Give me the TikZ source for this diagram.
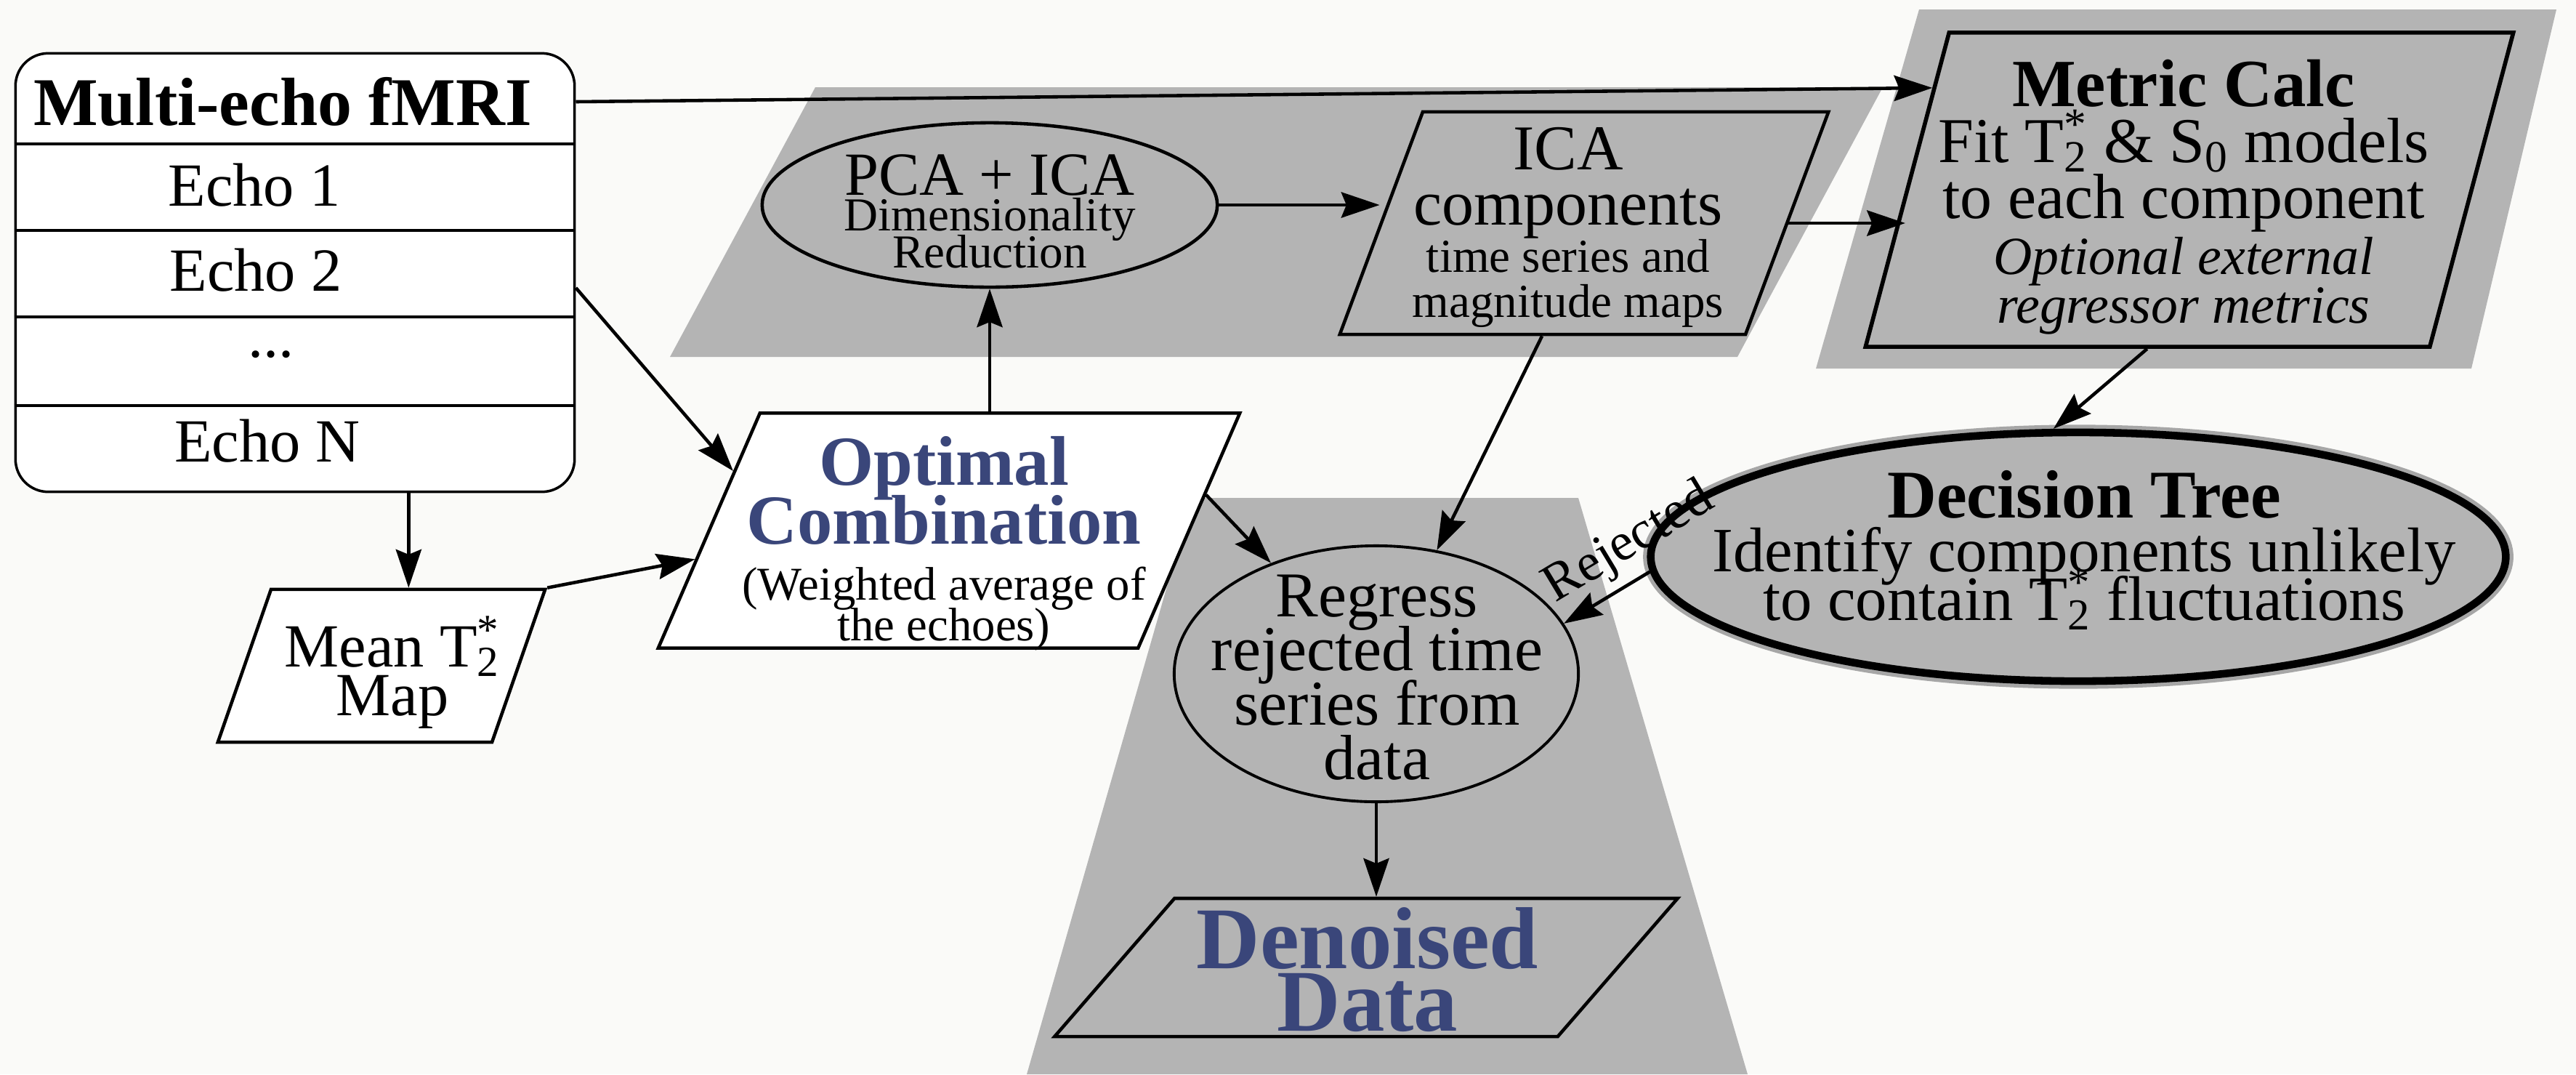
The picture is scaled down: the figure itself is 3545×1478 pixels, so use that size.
\documentclass[tikz,border=0pt]{standalone}
\usepackage{fontspec}
\setmainfont{Liberation Serif}
\usepackage{xcolor}
\usepackage{tikz}
\usetikzlibrary{shapes.geometric, arrows.meta, calc}
\definecolor{bandgray}{RGB}{180,180,180}
\definecolor{titleblue}{RGB}{58,70,122}
\definecolor{paper}{RGB}{250,250,248}
\newcommand{\tsize}[2]{\fontsize{#1}{#2}\selectfont\lineskiplimit=-50pt\relax}
\newcommand{\Tstar}{T\rlap{\textsuperscript{*}}\textsubscript{2}}
\tikzstyle{inputbox} = [rectangle, rounded corners=0.45cm, draw=black, line width=1pt, fill=white]
\tikzstyle{rowline} = [draw=black, line width=1pt]
\tikzstyle{datashape} = [rectangle, draw=black, line width=1.3pt, inner sep=0pt, transform shape]
\tikzstyle{procshape} = [ellipse, draw=black, line width=1.3pt, fill=bandgray, inner sep=0pt]
\tikzstyle{decshape} = [ellipse, draw=black, line width=3pt, fill=bandgray, inner sep=0pt, preaction={draw=black!35, line width=6pt}]
\tikzstyle{band} = [fill=bandgray]
\tikzstyle{txt} = [align=center, inner sep=0pt, font=\tsize{24.5}{21.5}]
\tikzstyle{arrow} = [line width=1.3pt, -{Stealth[length=15pt, width=10pt, inset=2pt]}]
\tikzstyle{backarrow} = [line width=1.3pt, {Stealth[length=15pt, width=10pt, inset=2pt]}-]
\begin{document}
\begin{tikzpicture}[x=0.01cm, y=-0.01cm]
    % page and grey groups
    \fill[paper] (0,0) rectangle (3545,1478);
    \fill[band] (1122,120) -- (2591,120) -- (2391,491) -- (922,491) -- cycle;
    \fill[band] (2641,13) -- (3518,13) -- (3401,507) -- (2499,507) -- cycle;
    \fill[band] (1641,685) -- (2172,685) -- (2405,1478) -- (1413,1478) -- cycle;

    % input data
    \node (fmri) [inputbox, minimum width=7.69cm, minimum height=6.03cm] at (406,375) {};
    \foreach \y in {198,317,436,558}
        \draw[rowline] (fmri.west |- 0,\y) -- (fmri.east |- 0,\y);
    \node (hdr) [txt, font=\tsize{26.7}{30}\bfseries] at (389,140) {Multi-echo fMRI};
    \node (echo1) [txt, font=\tsize{24}{24}] at (350,255) {Echo 1};
    \node (echo2) [txt, font=\tsize{24}{24}] at (352,372) {Echo 2};
    \node (dots) [txt, font=\tsize{24}{24}] at (373,488) {...};
    \node (echoN) [txt, font=\tsize{24}{24}] at (368,607) {Echo N};

    \node (mean) [datashape, fill=white, minimum width=3.77cm, minimum height=2.1cm, xslant=0.348] at (525,916) {};
    \node (meantext) [txt, font=\tsize{24}{19}] at (540,925) {Mean \Tstar\\Map};

    \node (opt) [datashape, fill=white, minimum width=6.6cm, minimum height=3.23cm, xslant=0.433] at (1306,730) {};
    \node (opttext) [txt, font=\tsize{27.5}{22.8}] at (1299,748) {\textcolor{titleblue}{\bfseries Optimal}\\\textcolor{titleblue}{\bfseries Combination}\\[-0.9pt]{\tsize{18.4}{18}(Weighted average of}\\[-6.8pt]{\tsize{18.4}{18}the echoes)}};

    % decomposition
    \node (pca) [procshape, minimum width=6.26cm, minimum height=2.26cm] at (1362,282) {};
    \node (pcatext) [txt, font=\tsize{24}{14}] at (1362,291) {PCA + ICA\\{\tsize{18.5}{14}Dimensionality}\\[0.5pt]{\tsize{18.5}{14}Reduction}};

    \node (ica) [datashape, minimum width=5.58cm, minimum height=3.06cm, xslant=0.373] at (2180,307) {};
    \node (icatext) [txt, font=\tsize{25}{21.6}] at (2158,313) {ICA\\components\\[-3.1pt]{\tsize{18.5}{18}time series and}\\[-4pt]{\tsize{18.5}{18}magnitude maps}};

    \node (metric) [datashape, fill=bandgray, line width=1.6pt, minimum width=7.76cm, minimum height=4.32cm, xslant=0.266] at (3013,261) {};
    \node (metrictext) [txt, font=\tsize{25}{21.9}] at (3005,271) {{\tsize{26.4}{22}\bfseries Metric Calc}\\Fit \Tstar{} \& S\textsubscript{0} models\\to each component\\{\tsize{21}{20}\itshape Optional external}\\[-2.8pt]{\tsize{21}{20}\itshape regressor metrics}};

    \node (dec) [decshape, minimum width=11.76cm, minimum height=3.42cm] at (2860,766) {};
    \node (dectext) [txt, font=\tsize{24.7}{20.8}] at (2868,757) {{\tsize{26.7}{22}\bfseries Decision Tree}\\Identify components unlikely\\[-1.7pt]to contain \Tstar{} fluctuations};

    % denoising
    \node (reg) [procshape, line width=1.1pt, minimum width=5.56cm, minimum height=3.52cm] at (1894,927) {};
    \node (regtext) [txt, font=\tsize{25}{21.3}] at (1895,932) {Regress\\rejected time\\series from\\data};

    \node (den) [datashape, fill=bandgray, minimum width=6.92cm, minimum height=1.9cm, xslant=0.868] at (1880,1331) {};
    \node (dentext) [txt, font=\tsize{34.4}{24.5}\bfseries\color{titleblue}] at (1882,1334) {Denoised\\Data};

    % connectors
    \draw[arrow] (hdr -| fmri.east) -- ($(metric.north west)!0.18!(metric.south west)$);
    \draw[arrow] ($(fmri.east |- echo2)+(0,24)$) -- ($(opt.north west)!0.25!(opt.south west)$);
    \draw[arrow] (mean.north |- fmri.south) -- (mean.north);
    \draw[arrow] (mean.north east) -- ($(opt.north west)!0.62!(opt.south west)$);
    \draw[arrow] (pca.south |- opt.north) -- (pca.south);
    \draw[arrow] (pca.east) -- (pca.east -| ica.west);
    \draw[arrow] (ica.east) -- (ica.east -| metric.west);
    \draw[arrow] (metric.south) -- (dec.101);
    \draw[arrow] ($(opt.north east)!0.35!(opt.south east)$) -- (reg);
    \draw[arrow] (ica.south) -- (reg);
    \draw[backarrow] (reg.15) -- node (rejlabel) [sloped, above, pos=0.97, font=\tsize{21}{21}] {Rejected} (dec.182);
    \draw[arrow] (reg.south) -- (reg.south |- den.north);
\end{tikzpicture}
\end{document}
